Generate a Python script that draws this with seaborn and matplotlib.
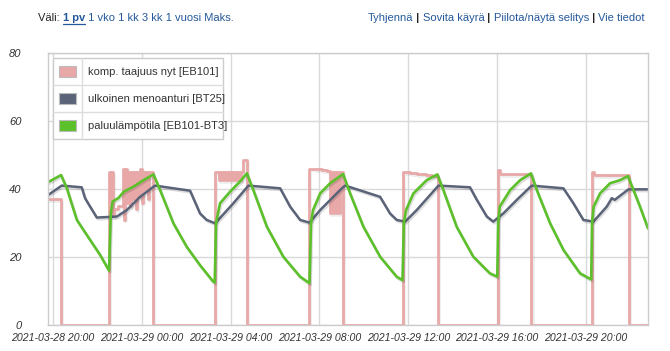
import numpy as np
import pandas as pd
import seaborn as sns
import matplotlib.pyplot as plt
import matplotlib.patheffects as pe
import matplotlib.dates as mdates
from matplotlib.patches import Rectangle
from matplotlib.lines import Line2D

# all times are hours after 2021-03-28 20:00
start = pd.Timestamp('2021-03-28 20:00')

# komp. taajuus nyt (step changes)
pink_t = [-0.23, 0.36, 2.52, 2.59, 2.64, 2.68, 2.75, 2.93, 3.15, 3.20, 3.24, 3.33, 3.38, 3.47,
          3.51, 3.60, 3.65, 3.74, 3.78, 3.87, 3.92, 4.01, 4.05, 4.14, 4.19, 4.28, 4.32, 4.50,
          7.30, 7.48, 7.52, 7.61, 7.65, 7.75, 7.79, 7.88, 7.92, 8.02, 8.06, 8.15, 8.19, 8.29,
          8.33, 8.42, 8.46, 8.56, 8.74,
          11.51, 11.80, 12.10, 12.35, 12.48, 12.52, 12.61, 12.65, 12.75, 12.79, 12.88, 12.92, 13.06,
          15.77, 16.10, 16.40, 16.80, 17.07, 17.34,
          20.05, 20.15, 21.55,
          24.27, 24.37, 25.95, 26.80]
pink_v = [37, 0, 45, 33, 45, 32, 34, 35, 46, 31, 46, 36, 45, 35,
          45, 37, 45, 34, 45, 38, 46, 36, 45, 40, 45, 37, 45, 0,
          45, 42.5, 45, 42.5, 45, 42.5, 45, 42.5, 45, 42.5, 45, 42.5, 45, 42.5,
          45, 42.5, 45, 48.5, 0,
          46, 45.8, 45.5, 45.2, 33, 45, 33, 45, 33, 45, 33, 45, 0,
          45, 44.7, 44.4, 44.1, 43.9, 0,
          45.5, 44.4, 0,
          45, 44.1, 0, 0]

# ulkoinen menoanturi
grey_t = [-0.23, 0.39, 1.29, 1.44, 1.67, 1.97, 2.87, 3.32, 3.92, 4.59, 6.17, 6.62, 6.92, 7.30,
          8.12, 8.80, 10.23, 10.68, 11.13, 11.55, 12.03, 12.93, 13.15, 13.40, 14.73, 15.18, 15.48,
          15.86, 16.38, 17.36, 18.78, 19.09, 19.54, 19.83, 20.28, 20.89, 21.56, 22.99, 23.44,
          23.89, 24.34, 24.94, 25.17, 25.30, 25.92, 26.80]
grey_v = [38.2, 41.0, 40.5, 37.3, 34.8, 31.6, 31.9, 33.8, 37.7, 41.0, 39.5, 32.8, 30.9, 29.9,
          35.8, 41.0, 40.2, 34.8, 30.9, 30.1, 33.8, 39.7, 41.0, 40.5, 37.7, 32.8, 30.9,
          30.4, 33.8, 41.0, 40.5, 36.8, 31.9, 30.4, 32.8, 36.8, 41.0, 40.2, 35.8,
          30.9, 30.4, 34.8, 37.3, 36.8, 39.9, 39.9]

# paluulämpötila
green_t = [-0.23, 0.36, 0.62, 1.07, 1.67, 2.12, 2.52, 2.60, 2.68, 2.95, 3.18, 3.62, 4.07, 4.52,
           4.82, 5.42, 6.02, 6.62, 7.22, 7.28, 7.34, 7.52, 7.97, 8.42, 8.73,
           9.02, 9.63, 10.37, 11.13, 11.55, 11.62, 11.71, 12.03, 12.48, 13.06,
           13.38, 13.98, 14.73, 15.48, 15.74, 15.80, 15.90, 16.23, 16.83, 17.31,
           17.58, 18.18, 18.93, 19.68, 20.01, 20.05, 20.12, 20.59, 21.04, 21.53,
           21.79, 22.39, 22.99, 23.74, 24.24, 24.28, 24.35, 24.64, 25.09, 25.54, 25.90, 25.97,
           26.44, 26.80]
green_v = [42.0, 44.1, 40.2, 30.9, 25.0, 20.6, 16.0, 33.0, 36.3, 37.4, 39.2, 40.7, 42.6, 44.3,
           39.7, 29.9, 23.0, 17.6, 12.7, 12.5, 30.0, 35.8, 39.2, 42.2, 44.6,
           39.7, 28.9, 20.1, 14.2, 12.3, 30.0, 33.8, 38.7, 41.7, 44.4,
           38.7, 28.9, 20.1, 14.2, 13.2, 30.0, 33.8, 38.7, 42.6, 44.3,
           39.7, 28.9, 20.1, 15.2, 14.2, 30.0, 34.8, 39.7, 42.6, 44.6,
           39.7, 29.9, 22.1, 15.2, 13.4, 30.0, 34.8, 38.7, 41.7, 42.6, 43.8, 42.6,
           34.8, 28.4]

series_names = ['komp. taajuus nyt [EB101]', 'ulkoinen menoanturi [BT25]', 'paluulämpötila [EB101-BT3]']
series_colors = ['#e8a8a8', '#5b6378', '#5cc02a']
y_ticks = [0, 20, 40, 60, 80]
x_ticks = pd.date_range('2021-03-28 20:00', periods=7, freq='4h')

sns.set_theme(style='white')
plt.rcParams['font.family'] = ['Liberation Sans', 'DejaVu Sans']

W, H = 670, 351
fig = plt.figure(figsize=(W / 100, H / 100), dpi=100)
ax = fig.add_axes([48 / W, 1 - 325 / H, 600 / W, 272 / H])


def to_time(hours):
    return start + pd.to_timedelta(np.array(hours), unit='h')


def shadow(alpha=0.13):
    return [pe.SimpleLineShadow(offset=(0.8, -1.3), shadow_color='black', alpha=alpha), pe.Normal()]


sns.lineplot(x=to_time(pink_t), y=pink_v, ax=ax, color=series_colors[0], lw=2.0,
             estimator=None, sort=False, drawstyle='steps-post', path_effects=shadow(0.07))
sns.lineplot(x=to_time(grey_t), y=grey_v, ax=ax, color=series_colors[1], lw=1.8,
             estimator=None, sort=False, path_effects=shadow())
sns.lineplot(x=to_time(green_t), y=green_v, ax=ax, color=series_colors[2], lw=1.9,
             estimator=None, sort=False, path_effects=shadow())

ax.set_xlim(to_time([-0.23])[0], to_time([26.8])[0])
ax.set_ylim(0, 80)
ax.set_yticks(y_ticks)
ax.set_xticks(x_ticks)
ax.xaxis.set_major_formatter(mdates.DateFormatter('%Y-%m-%d %H:%M'))
ax.grid(True, color='#d9d9d9', lw=1)
ax.set_axisbelow(True)
for s in ax.spines.values():
    s.set_color('#cccccc')
    s.set_linewidth(1)
ax.tick_params(axis='both', length=0, labelsize=8, labelcolor='#333333')
ax.tick_params(axis='x', labelsize=7.6, pad=6)
ax.tick_params(axis='y', pad=19)
for lab in ax.get_xticklabels() + ax.get_yticklabels():
    lab.set_fontstyle('italic')
ax.set_xlabel('')
ax.set_ylabel('')


def fx(x):
    return x / W


def fy(y):
    return 1 - y / H


# legend drawn as a small table like the original page
lx0, lx1, ly0, row_h, sep_x = 52.7, 223.3, 58.3, 27, 81.7
fig.add_artist(Rectangle((fx(lx0), fy(ly0 + 3 * row_h)), fx(lx1 - lx0), 3 * row_h / H,
                         transform=fig.transFigure, facecolor='white', edgecolor='#cccccc', lw=1))
fig.add_artist(Line2D([fx(sep_x)] * 2, [fy(ly0), fy(ly0 + 3 * row_h)], transform=fig.transFigure,
                      color='#dddddd', lw=1))
for i, (name, col) in enumerate(zip(series_names, series_colors)):
    yc = ly0 + row_h * (i + 0.5)
    if i > 0:
        fig.add_artist(Line2D([fx(lx0), fx(lx1)], [fy(ly0 + row_h * i)] * 2,
                              transform=fig.transFigure, color='#dddddd', lw=1))
    fig.add_artist(Rectangle((fx(59), fy(yc + 5.5)), fx(17), 11 / H, transform=fig.transFigure,
                             facecolor=col, edgecolor='#bbbbbb', lw=0.8))
    fig.text(fx(88), fy(yc), name, fontsize=8, color='#333333', va='center', ha='left')

# header links
renderer = fig.canvas.get_renderer()
blue = '#24589a'


def place(pieces, x0):
    x = x0
    for txt, col, weight in pieces:
        t = fig.text(fx(x), fy(18), txt, fontsize=8, color=col, fontweight=weight,
                     va='center', ha='left')
        w = t.get_window_extent(renderer).width
        if txt.strip() == '1 pv':
            fig.add_artist(Line2D([fx(x), fx(x + w)], [fy(24)] * 2, transform=fig.transFigure,
                                  color=col, lw=0.9))
        x += w


left_pieces = [('Väli: ', '#222222', 'normal'), ('1 pv', blue, 'bold'),
               (' 1 vko 1 kk 3 kk 1 vuosi Maks.', blue, 'normal')]
right_pieces = [('Tyhjennä', blue, 'normal'), (' | ', '#222222', 'bold'),
                ('Sovita käyrä', blue, 'normal'), (' | ', '#222222', 'bold'),
                ('Piilota/näytä selitys', blue, 'normal'), (' | ', '#222222', 'bold'),
                ('Vie tiedot', blue, 'normal')]
place(left_pieces, 38)
total = 0
for txt, col, weight in right_pieces:
    tmp = fig.text(0, 0, txt, fontsize=8, fontweight=weight)
    total += tmp.get_window_extent(renderer).width
    tmp.remove()
place(right_pieces, 645 - total)

fig.savefig('out.png', dpi=100)
